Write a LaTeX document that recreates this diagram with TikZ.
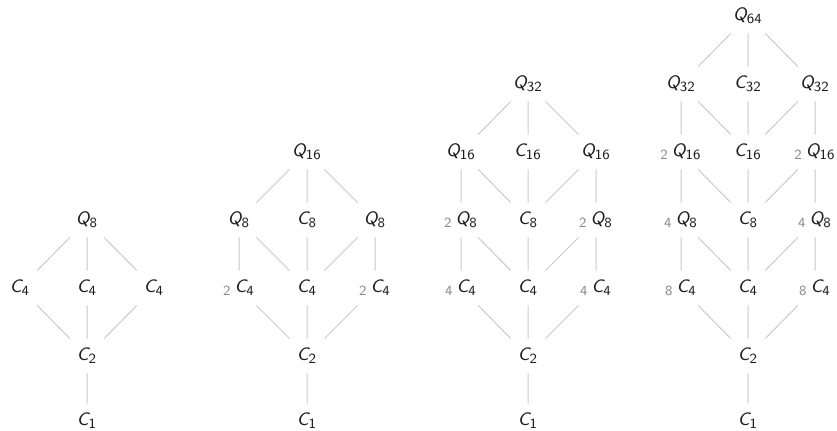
\documentclass[tikz,border=0pt]{standalone}
\usepackage{amsmath}
\usepackage{tikz}
\DeclareMathAlphabet{\mathsfsl}{OT1}{cmss}{m}{sl}
\definecolor{ink}{HTML}{1E1E1E}
\definecolor{rule}{HTML}{CACACA}
\definecolor{mult}{HTML}{8A8A8A}
\newcommand{\grpn}[2]{\mathsfsl{#1}_{\mathsf{#2}}}
\newcommand{\lmult}[1]{{}_{\textcolor{mult}{\mathsf{#1}}}\,}

\begin{document}
\begin{tikzpicture}[x=0.5pt,y=-0.5pt,
    elt/.style={inner sep=0pt,minimum width=17pt,minimum height=17pt,text=ink,
      font=\fontsize{9.4}{11}\selectfont},
    link/.style={draw=rule,line width=0.5pt}]
  \useasboundingbox (0,0) rectangle (837,431);
  % first lattice: Q8
  \node[elt] (a-top) at (87,220) {$\grpn{Q}{8}$};
  \node[elt] (a-c4l) at (20,288) {$\grpn{C}{4}$};
  \node[elt] (a-c4m) at (87,288) {$\grpn{C}{4}$};
  \node[elt] (a-c4r) at (154,288) {$\grpn{C}{4}$};
  \node[elt] (a-c2) at (87,356) {$\grpn{C}{2}$};
  \node[elt] (a-c1) at (87,421) {$\grpn{C}{1}$};
  \draw[link] (a-top) -- (a-c4l) (a-top) -- (a-c4m) (a-top) -- (a-c4r)
    (a-c4l) -- (a-c2) (a-c4m) -- (a-c2) (a-c4r) -- (a-c2) (a-c2) -- (a-c1);
  % second lattice: Q16
  \node[elt] (b-top) at (307,152) {$\grpn{Q}{16}$};
  \node[elt] (b-q8l) at (239,220) {$\grpn{Q}{8}$};
  \node[elt] (b-c8) at (307,220) {$\grpn{C}{8}$};
  \node[elt] (b-q8r) at (375,220) {$\grpn{Q}{8}$};
  \node[elt] (b-c4l) at (239,288) {$\lmult{2}\grpn{C}{4}$};
  \node[elt] (b-c4m) at (307,288) {$\grpn{C}{4}$};
  \node[elt] (b-c4r) at (375,288) {$\lmult{2}\grpn{C}{4}$};
  \node[elt] (b-c2) at (307,356) {$\grpn{C}{2}$};
  \node[elt] (b-c1) at (307,421) {$\grpn{C}{1}$};
  \draw[link] (b-top) -- (b-q8l) (b-top) -- (b-c8) (b-top) -- (b-q8r)
    (b-q8l) -- (b-c4l) (b-q8l) -- (b-c4m) (b-c8) -- (b-c4m)
    (b-q8r) -- (b-c4m) (b-q8r) -- (b-c4r)
    (b-c4l) -- (b-c2) (b-c4m) -- (b-c2) (b-c4r) -- (b-c2) (b-c2) -- (b-c1);
  % third lattice: Q32
  \node[elt] (c-top) at (528,84) {$\grpn{Q}{32}$};
  \node[elt] (c-q16l) at (461,152) {$\grpn{Q}{16}$};
  \node[elt] (c-c16) at (528,152) {$\grpn{C}{16}$};
  \node[elt] (c-q16r) at (596,152) {$\grpn{Q}{16}$};
  \node[elt] (c-q8l) at (461,220) {$\lmult{2}\grpn{Q}{8}$};
  \node[elt] (c-c8) at (528,220) {$\grpn{C}{8}$};
  \node[elt] (c-q8r) at (596,220) {$\lmult{2}\grpn{Q}{8}$};
  \node[elt] (c-c4l) at (461,288) {$\lmult{4}\grpn{C}{4}$};
  \node[elt] (c-c4m) at (528,288) {$\grpn{C}{4}$};
  \node[elt] (c-c4r) at (596,288) {$\lmult{4}\grpn{C}{4}$};
  \node[elt] (c-c2) at (528,356) {$\grpn{C}{2}$};
  \node[elt] (c-c1) at (528,421) {$\grpn{C}{1}$};
  \draw[link] (c-top) -- (c-q16l) (c-top) -- (c-c16) (c-top) -- (c-q16r)
    (c-q16l) -- (c-q8l) (c-q16l) -- (c-c8) (c-c16) -- (c-c8)
    (c-q16r) -- (c-c8) (c-q16r) -- (c-q8r)
    (c-q8l) -- (c-c4l) (c-q8l) -- (c-c4m) (c-c8) -- (c-c4m)
    (c-q8r) -- (c-c4m) (c-q8r) -- (c-c4r)
    (c-c4l) -- (c-c2) (c-c4m) -- (c-c2) (c-c4r) -- (c-c2) (c-c2) -- (c-c1);
  % fourth lattice: Q64
  \node[elt] (d-top) at (748,16) {$\grpn{Q}{64}$};
  \node[elt] (d-q32l) at (681,84) {$\grpn{Q}{32}$};
  \node[elt] (d-c32) at (748,84) {$\grpn{C}{32}$};
  \node[elt] (d-q32r) at (815,84) {$\grpn{Q}{32}$};
  \node[elt] (d-q16l) at (681,152) {$\lmult{2}\grpn{Q}{16}$};
  \node[elt] (d-c16) at (748,152) {$\grpn{C}{16}$};
  \node[elt] (d-q16r) at (815,152) {$\lmult{2}\grpn{Q}{16}$};
  \node[elt] (d-q8l) at (681,220) {$\lmult{4}\grpn{Q}{8}$};
  \node[elt] (d-c8) at (748,220) {$\grpn{C}{8}$};
  \node[elt] (d-q8r) at (815,220) {$\lmult{4}\grpn{Q}{8}$};
  \node[elt] (d-c4l) at (681,288) {$\lmult{8}\grpn{C}{4}$};
  \node[elt] (d-c4m) at (748,288) {$\grpn{C}{4}$};
  \node[elt] (d-c4r) at (815,288) {$\lmult{8}\grpn{C}{4}$};
  \node[elt] (d-c2) at (748,356) {$\grpn{C}{2}$};
  \node[elt] (d-c1) at (748,421) {$\grpn{C}{1}$};
  \draw[link] (d-top) -- (d-q32l) (d-top) -- (d-c32) (d-top) -- (d-q32r)
    (d-q32l) -- (d-q16l) (d-q32l) -- (d-c16) (d-c32) -- (d-c16)
    (d-q32r) -- (d-c16) (d-q32r) -- (d-q16r)
    (d-q16l) -- (d-q8l) (d-q16l) -- (d-c8) (d-c16) -- (d-c8)
    (d-q16r) -- (d-c8) (d-q16r) -- (d-q8r)
    (d-q8l) -- (d-c4l) (d-q8l) -- (d-c4m) (d-c8) -- (d-c4m)
    (d-q8r) -- (d-c4m) (d-q8r) -- (d-c4r)
    (d-c4l) -- (d-c2) (d-c4m) -- (d-c2) (d-c4r) -- (d-c2) (d-c2) -- (d-c1);
\end{tikzpicture}
\end{document}
